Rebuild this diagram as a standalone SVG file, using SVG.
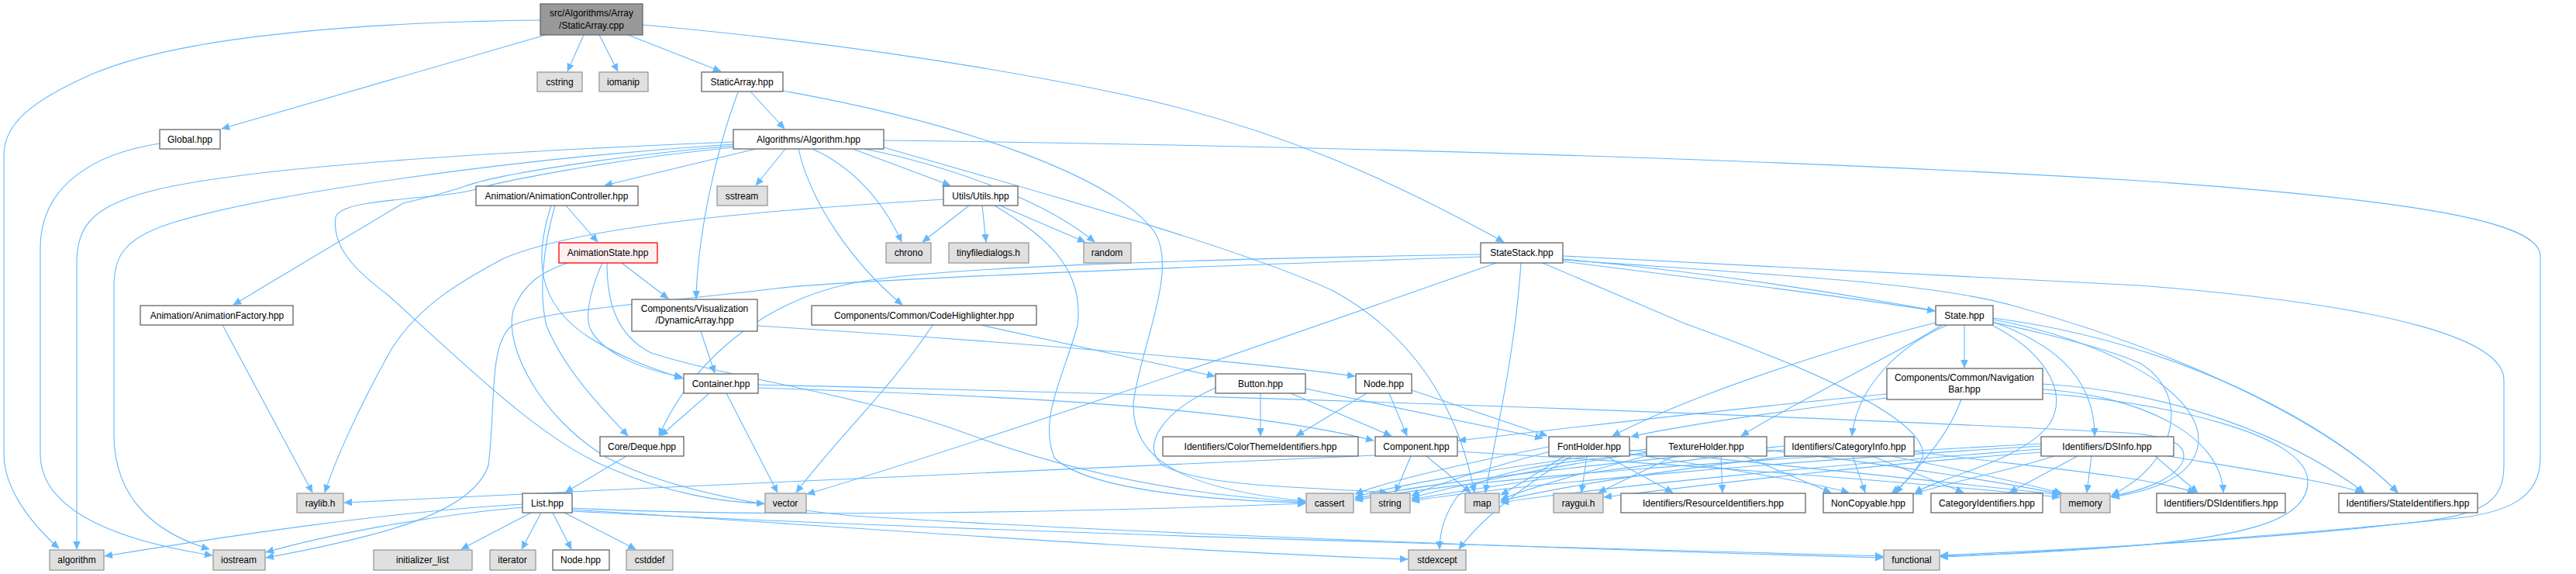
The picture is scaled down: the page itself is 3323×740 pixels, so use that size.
<svg xmlns="http://www.w3.org/2000/svg" width="3323" height="740" viewBox="0 0 3323 740">
<style>
.w{fill:#ffffff;stroke:#666666;stroke-width:1.3}
.g{fill:#e0e0e0;stroke:#999999;stroke-width:1.3}
.r{fill:#999999;stroke:#666666;stroke-width:1.3}
.red{fill:#fff0f0;stroke:#ff0000;stroke-width:1.3}
text{font-family:"Liberation Sans",Arial,sans-serif;font-size:12px;fill:#000;text-anchor:middle}
#edges path{fill:none;stroke:#63b8ff;stroke-width:1.1}
</style>
<defs>
<marker id="arr" markerUnits="userSpaceOnUse" markerWidth="11" markerHeight="10" refX="10" refY="4.5" orient="auto"><path d="M0,0 L10,4.5 L0,9 Z" fill="#63b8ff" stroke="#63b8ff" stroke-width="0.5"/></marker>
</defs>
<rect width="3323" height="740" fill="#ffffff"/>
<g id="edges" marker-end="url(#arr)">
<path d="M697,26 C520,28 250,40 120,95 C40,130 5,160 5,200 L5,585 C5,630 40,675 76,707"/>
<path d="M704,45 L286,166"/>
<path d="M753,45 L732,92"/>
<path d="M773,45 L797,92"/>
<path d="M810,45 L930,92"/>
<path d="M829,32 C1050,52 1250,80 1450,122 C1650,165 1800,235 1940,312"/>
<path d="M206,185 C120,198 52,240 52,320 L52,585 C52,665 170,700 274,716"/>
<path d="M968,118 L1012,166"/>
<path d="M952,119 C925,190 900,300 898,385"/>
<path d="M1010,117 C1250,160 1440,230 1490,300 C1520,350 1470,450 1462,520 C1460,590 1520,630 1684,646"/>
<path d="M946,183 C650,195 320,215 200,245 C120,265 99,290 99,340 L99,708"/>
<path d="M946,186 C650,205 350,250 230,285 C160,305 147,330 147,370 L147,560 C147,650 210,690 270,708"/>
<path d="M946,188 C800,200 640,225 600,240 C570,250 550,255 520,262 L301,393"/>
<path d="M946,190 C790,205 640,235 610,245 C560,258 440,255 433,280 C428,320 460,350 500,380 C600,470 700,570 790,605 C860,635 930,648 986,649"/>
<path d="M975,192 L780,239"/>
<path d="M1013,192 L975,239"/>
<path d="M1140,181 C1700,188 2300,205 2760,233 C3150,260 3277,290 3277,330 L3277,590 C3277,640 3240,663 3150,670 C2950,690 2650,712 2503,718"/>
<path d="M1100,192 L1226,239"/>
<path d="M1048,192 C1100,215 1140,260 1163,312"/>
<path d="M1115,192 C1230,215 1350,260 1412,312"/>
<path d="M1030,192 C1045,260 1100,340 1164,393"/>
<path d="M1140,190 C1350,250 1600,320 1720,375 C1820,430 1880,520 1902,635"/>
<path d="M730,265 L771,312"/>
<path d="M716,265 C700,320 695,380 705,420 C730,480 780,530 810,562"/>
<path d="M711,265 C690,330 690,390 760,435 C800,460 840,475 881,488"/>
<path d="M802,339 L862,385"/>
<path d="M777,339 C765,365 755,400 760,420 C770,450 820,475 880,486"/>
<path d="M783,339 C783,380 790,430 840,455 C950,490 1100,505 1250,560 C1400,615 1550,640 1684,647"/>
<path d="M732,339 C700,350 675,365 662,400 C650,450 700,540 783,590 C850,625 950,650 1100,665 C1500,690 2100,710 2429,719"/>
<path d="M915,507 L852,562"/>
<path d="M937,507 L1003,635"/>
<path d="M978,500 C1300,510 1600,525 1772,568"/>
<path d="M978,496 C1600,510 2300,535 2723,557 C2800,560 2825,572 2815,597 C2800,620 2765,632 2723,640"/>
<path d="M904,427 L922,481"/>
<path d="M977,420 C1300,440 1600,465 1748,485"/>
<path d="M1265,419 L1567,485"/>
<path d="M1203,419 C1150,500 1080,565 1027,635"/>
<path d="M808,588 L729,635"/>
<path d="M1626,507 L1626,562"/>
<path d="M1665,507 L1795,562"/>
<path d="M1684,501 L1990,565"/>
<path d="M1568,500 C1500,530 1470,575 1500,600 C1560,630 1700,628 1790,635"/>
<path d="M1763,507 L1672,562"/>
<path d="M1792,507 L1815,562"/>
<path d="M1821,503 L1996,562"/>
<path d="M1774,587 C1500,600 900,625 444,648"/>
<path d="M1820,588 L1800,635"/>
<path d="M1840,588 L1897,635"/>
<path d="M1880,582 C2200,600 2500,625 2657,641"/>
<path d="M1998,576 C1900,595 1790,620 1748,637"/>
<path d="M2000,582 C1930,600 1850,625 1821,639"/>
<path d="M2018,588 C1990,605 1960,625 1936,638"/>
<path d="M2047,588 L2040,635"/>
<path d="M2072,588 L2158,635"/>
<path d="M2102,585 C2200,600 2330,620 2385,635"/>
<path d="M2102,580 C2300,600 2550,625 2657,638"/>
<path d="M2027,588 C1960,630 1910,670 1882,708"/>
<path d="M2124,579 C1950,600 1800,625 1748,641"/>
<path d="M2124,583 C1980,605 1860,630 1821,642"/>
<path d="M2130,586 C2040,610 1970,630 1936,644"/>
<path d="M2160,588 L2062,635"/>
<path d="M2220,588 L2222,635"/>
<path d="M2250,588 L2362,635"/>
<path d="M2279,580 C2450,600 2600,625 2658,637"/>
<path d="M2124,585 C2000,595 1910,610 1880,640 C1862,665 1857,690 1857,708"/>
<path d="M2302,575 C2100,595 1850,620 1748,643"/>
<path d="M2302,580 C2100,600 1900,630 1821,644"/>
<path d="M2310,588 C2150,605 2000,630 1936,646"/>
<path d="M2390,588 L2406,635"/>
<path d="M2415,588 L2533,635"/>
<path d="M2440,588 C2550,610 2620,625 2660,636"/>
<path d="M2469,582 C2600,600 2760,612 2832,635"/>
<path d="M2633,572 C2300,590 1900,615 1748,645"/>
<path d="M2633,575 C2300,595 1950,625 1821,646"/>
<path d="M2633,579 C2350,600 2050,630 1936,648"/>
<path d="M2633,583 C2400,600 2200,625 2069,641"/>
<path d="M2650,588 C2580,610 2500,625 2469,637"/>
<path d="M2680,588 L2592,635"/>
<path d="M2698,588 L2692,635"/>
<path d="M2780,588 L2835,635"/>
<path d="M2797,588 C2900,605 3000,620 3048,635"/>
<path d="M2534,419 L2534,474"/>
<path d="M2497,416 C2400,440 2200,500 2080,562"/>
<path d="M2505,419 C2450,455 2330,510 2246,562"/>
<path d="M2512,419 C2450,445 2395,500 2389,562"/>
<path d="M2571,420 C2630,450 2670,500 2645,545 C2610,595 2500,615 2470,636"/>
<path d="M2571,415 C2640,440 2702,480 2702,562"/>
<path d="M2571,412 C2700,435 2840,500 2836,570 C2832,610 2790,630 2724,641"/>
<path d="M2571,410 C2800,440 3000,540 3093,635"/>
<path d="M2434,508 C2200,530 2000,555 1881,568"/>
<path d="M2434,513 C2300,530 2170,548 2104,563"/>
<path d="M2530,515 C2510,570 2470,605 2445,636"/>
<path d="M2635,502 C2760,510 2865,560 2868,635"/>
<path d="M2635,495 C2800,505 2950,560 3050,635"/>
<path d="M2635,507 C2800,520 2975,560 2977,620 C2978,670 2900,690 2760,703 C2650,712 2550,716 2503,717"/>
<path d="M2016,337 C2200,360 2400,385 2496,401"/>
<path d="M1962,339 C1955,450 1930,560 1916,635"/>
<path d="M1930,339 C1700,420 1300,560 1041,637"/>
<path d="M1910,328 C1500,335 1200,345 1100,365 C1000,385 900,450 850,562"/>
<path d="M1910,331 C1500,345 1100,360 1000,372 C850,390 700,400 660,420 C630,445 640,520 630,600 C610,660 500,690 343,719"/>
<path d="M2016,330 C2300,345 2550,355 2760,368 C3100,395 3230,440 3230,490 L3230,600 C3230,650 3200,665 3100,675 C2900,698 2600,712 2503,716"/>
<path d="M2016,334 C2300,360 2650,420 2760,468 C2830,510 2805,600 2724,638"/>
<path d="M2016,335 C2300,355 2500,365 2600,395 C2800,450 3000,540 3093,635"/>
<path d="M1990,339 L2173,417 C2350,480 2490,545 2480,590 C2470,612 2455,625 2440,636"/>
<path d="M1250,265 L1190,312"/>
<path d="M1267,265 L1272,312"/>
<path d="M1290,265 L1400,312"/>
<path d="M1217,257 C1000,270 750,290 650,333 C590,365 540,395 505,450 C460,530 430,600 419,635"/>
<path d="M1283,265 C1340,300 1400,340 1390,420 C1370,490 1340,540 1360,590 C1400,630 1550,645 1684,648"/>
<path d="M287,419 L403,635"/>
<path d="M674,650 C500,660 300,690 135,717"/>
<path d="M674,654 C550,665 420,690 343,712"/>
<path d="M685,661 L595,708"/>
<path d="M698,661 L673,708"/>
<path d="M713,661 L737,708"/>
<path d="M728,661 L820,708"/>
<path d="M738,657 C1100,680 1500,710 1816,721"/>
<path d="M738,659 C1300,688 2000,705 2429,717"/>
<path d="M738,655 C1000,668 1400,660 1684,649"/>
</g>
<g id="n_root"><rect class="r" x="697" y="5" width="132" height="40"/><text x="763" y="21">src/Algorithms/Array</text><text x="763" y="37">/StaticArray.cpp</text></g>
<g id="n_cstring"><rect class="g" x="693" y="93" width="58" height="25"/><text x="722" y="110">cstring</text></g>
<g id="n_iomanip"><rect class="g" x="773" y="93" width="63" height="25"/><text x="804" y="110">iomanip</text></g>
<g id="n_staticarray"><rect class="w" x="905" y="93" width="105" height="25"/><text x="957" y="110">StaticArray.hpp</text></g>
<g id="n_global"><rect class="w" x="206" y="167" width="78" height="25"/><text x="245" y="184">Global.hpp</text></g>
<g id="n_algorithm_hpp"><rect class="w" x="946" y="167" width="194" height="25"/><text x="1043" y="184">Algorithms/Algorithm.hpp</text></g>
<g id="n_animctrl"><rect class="w" x="614" y="240" width="209" height="25"/><text x="718" y="257">Animation/AnimationController.hpp</text></g>
<g id="n_sstream"><rect class="g" x="925" y="240" width="65" height="25"/><text x="957" y="257">sstream</text></g>
<g id="n_utils"><rect class="w" x="1217" y="240" width="96" height="25"/><text x="1265" y="257">Utils/Utils.hpp</text></g>
<g id="n_animstate"><rect class="red" x="721" y="313" width="127" height="26"/><text x="784" y="330">AnimationState.hpp</text></g>
<g id="n_chrono"><rect class="g" x="1143" y="313" width="58" height="26"/><text x="1172" y="330">chrono</text></g>
<g id="n_tinyfd"><rect class="g" x="1224" y="313" width="103" height="26"/><text x="1275" y="330">tinyfiledialogs.h</text></g>
<g id="n_random"><rect class="g" x="1398" y="313" width="61" height="26"/><text x="1428" y="330">random</text></g>
<g id="n_statestack"><rect class="w" x="1910" y="313" width="106" height="26"/><text x="1963" y="330">StateStack.hpp</text></g>
<g id="n_animfactory"><rect class="w" x="181" y="394" width="197" height="25"/><text x="280" y="411">Animation/AnimationFactory.hpp</text></g>
<g id="n_dynarray"><rect class="w" x="815" y="386" width="162" height="41"/><text x="896" y="402">Components/Visualization</text><text x="896" y="417">/DynamicArray.hpp</text></g>
<g id="n_codehl"><rect class="w" x="1047" y="394" width="290" height="25"/><text x="1192" y="411">Components/Common/CodeHighlighter.hpp</text></g>
<g id="n_state"><rect class="w" x="2497" y="394" width="74" height="25"/><text x="2534" y="411">State.hpp</text></g>
<g id="n_navbar"><rect class="w" x="2434" y="475" width="201" height="40"/><text x="2534" y="491">Components/Common/Navigation</text><text x="2534" y="506">Bar.hpp</text></g>
<g id="n_container"><rect class="w" x="882" y="482" width="96" height="25"/><text x="930" y="499">Container.hpp</text></g>
<g id="n_button"><rect class="w" x="1568" y="482" width="116" height="25"/><text x="1626" y="499">Button.hpp</text></g>
<g id="n_node1"><rect class="w" x="1749" y="482" width="72" height="25"/><text x="1785" y="499">Node.hpp</text></g>
<g id="n_deque"><rect class="w" x="774" y="563" width="108" height="25"/><text x="828" y="580">Core/Deque.hpp</text></g>
<g id="n_colortheme"><rect class="w" x="1500" y="563" width="252" height="25"/><text x="1626" y="580">Identifiers/ColorThemeIdentifiers.hpp</text></g>
<g id="n_component"><rect class="w" x="1774" y="563" width="106" height="25"/><text x="1827" y="580">Component.hpp</text></g>
<g id="n_fontholder"><rect class="w" x="1998" y="563" width="104" height="25"/><text x="2050" y="580">FontHolder.hpp</text></g>
<g id="n_textureholder"><rect class="w" x="2124" y="563" width="155" height="25"/><text x="2201" y="580">TextureHolder.hpp</text></g>
<g id="n_categoryinfo"><rect class="w" x="2302" y="563" width="167" height="25"/><text x="2385" y="580">Identifiers/CategoryInfo.hpp</text></g>
<g id="n_dsinfo"><rect class="w" x="2633" y="563" width="171" height="25"/><text x="2718" y="580">Identifiers/DSInfo.hpp</text></g>
<g id="n_raylib"><rect class="g" x="383" y="636" width="60" height="25"/><text x="413" y="653">raylib.h</text></g>
<g id="n_list"><rect class="w" x="674" y="636" width="64" height="25"/><text x="706" y="653">List.hpp</text></g>
<g id="n_vector"><rect class="g" x="987" y="636" width="53" height="25"/><text x="1013" y="653">vector</text></g>
<g id="n_cassert"><rect class="g" x="1685" y="636" width="61" height="25"/><text x="1715" y="653">cassert</text></g>
<g id="n_string"><rect class="g" x="1768" y="636" width="51" height="25"/><text x="1793" y="653">string</text></g>
<g id="n_map"><rect class="g" x="1890" y="636" width="44" height="25"/><text x="1912" y="653">map</text></g>
<g id="n_raygui"><rect class="g" x="2004" y="636" width="64" height="25"/><text x="2036" y="653">raygui.h</text></g>
<g id="n_resid"><rect class="w" x="2091" y="636" width="238" height="25"/><text x="2210" y="653">Identifiers/ResourceIdentifiers.hpp</text></g>
<g id="n_noncopy"><rect class="w" x="2352" y="636" width="116" height="25"/><text x="2410" y="653">NonCopyable.hpp</text></g>
<g id="n_catid"><rect class="w" x="2491" y="636" width="144" height="25"/><text x="2563" y="653">CategoryIdentifiers.hpp</text></g>
<g id="n_memory"><rect class="g" x="2658" y="636" width="64" height="25"/><text x="2690" y="653">memory</text></g>
<g id="n_dsid"><rect class="w" x="2782" y="636" width="166" height="25"/><text x="2865" y="653">Identifiers/DSIdentifiers.hpp</text></g>
<g id="n_stateid"><rect class="w" x="3017" y="636" width="179" height="25"/><text x="3106" y="653">Identifiers/StateIdentifiers.hpp</text></g>
<g id="n_algorithm"><rect class="g" x="64" y="709" width="70" height="26"/><text x="99" y="726">algorithm</text></g>
<g id="n_iostream"><rect class="g" x="275" y="709" width="67" height="26"/><text x="308" y="726">iostream</text></g>
<g id="n_initlist"><rect class="g" x="482" y="709" width="127" height="26"/><text x="545" y="726">initializer_list</text></g>
<g id="n_iterator"><rect class="g" x="632" y="709" width="59" height="26"/><text x="661" y="726">iterator</text></g>
<g id="n_node2"><rect class="w" x="713" y="709" width="73" height="26"/><text x="749" y="726">Node.hpp</text></g>
<g id="n_cstddef"><rect class="g" x="808" y="709" width="60" height="26"/><text x="838" y="726">cstddef</text></g>
<g id="n_stdexcept"><rect class="g" x="1817" y="709" width="74" height="26"/><text x="1854" y="726">stdexcept</text></g>
<g id="n_functional"><rect class="g" x="2430" y="709" width="72" height="26"/><text x="2466" y="726">functional</text></g>
</svg>
